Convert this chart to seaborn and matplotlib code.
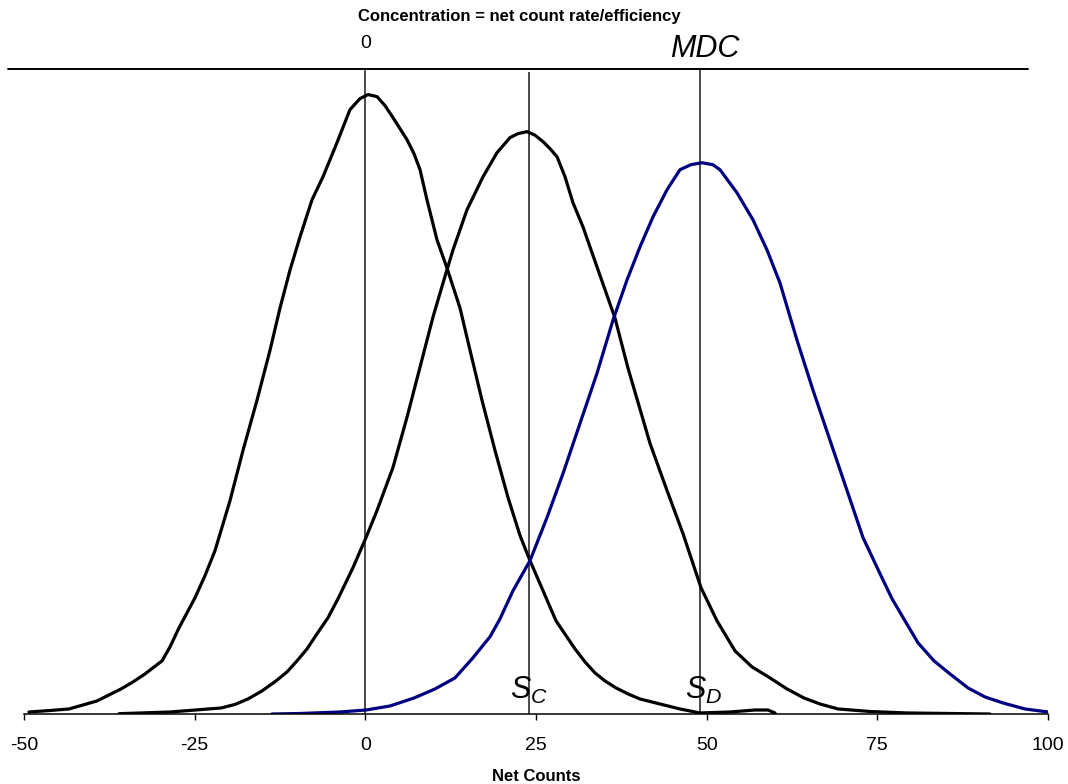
import matplotlib
matplotlib.use("Agg")
import matplotlib.pyplot as plt
import numpy as np
import pandas as pd
import seaborn as sns

# Net-count distributions: blank (centred on 0), signal at the critical level S_C,
# and signal at the detection limit S_D.
blank_counts = [-49.27, -46.19, -43.41, -39.31, -35.79, -34.03, -32.27, -29.78, -28.61,
                -27.29, -26.12, -24.95, -23.49, -22.02, -19.82, -17.92, -15.87, -13.96,
                -12.50, -11.03, -9.57, -7.81, -6.20, -4.15, -2.25, -0.78, 0.39, 1.71,
                2.88, 4.05, 6.10, 7.13, 8.01, 9.03, 10.50, 11.96, 13.87, 15.33, 17.09,
                18.99, 20.90, 22.66, 24.12, 26.03, 27.93, 30.71, 32.18, 33.64, 35.11,
                36.72, 38.48, 40.23, 43.16, 46.09, 49.02, 53.42, 57.08, 58.98, 60.01]
blank_freq = [0.31, 0.54, 0.78, 2.02, 3.88, 4.97, 6.21, 8.23, 10.40, 13.35, 15.68,
              18.01, 21.43, 25.31, 33.07, 40.84, 48.60, 56.37, 62.89, 68.79, 73.91,
              79.66, 83.23, 88.51, 93.63, 95.34, 95.96, 95.65, 94.25, 92.39, 88.98,
              86.80, 84.32, 79.66, 73.45, 69.10, 62.89, 56.37, 48.60, 40.84, 33.54,
              27.64, 23.76, 19.10, 14.44, 10.09, 8.07, 6.37, 5.12, 4.04, 3.11, 2.33,
              1.55, 0.78, 0.16, 0.31, 0.62, 0.62, 0.16]

critical_counts = [-36.08, -28.61, -21.14, -19.09, -17.19, -15.14, -13.09, -11.47,
                   -10.01, -8.54, -7.08, -5.47, -4.00, -1.81, 0.10, 1.71, 4.05, 6.10,
                   8.01, 9.91, 11.38, 12.84, 14.89, 17.24, 19.29, 21.19, 22.36, 23.68,
                   24.85, 26.03, 27.05, 28.08, 29.25, 30.42, 31.88, 33.94, 36.57, 38.48,
                   41.70, 44.19, 46.53, 49.17, 51.51, 54.15, 56.64, 59.28, 61.77, 64.26,
                   66.60, 69.24, 73.92, 79.35, 91.50]
critical_freq = [0.05, 0.31, 0.93, 1.48, 2.33, 3.57, 5.12, 6.52, 8.23, 10.09, 12.42,
                 14.91, 17.86, 22.67, 27.33, 31.52, 38.20, 45.96, 53.73, 61.49, 66.77,
                 71.89, 78.11, 83.23, 86.96, 89.29, 89.91, 90.22, 89.67, 88.67, 87.58,
                 86.34, 83.23, 79.19, 75.47, 69.25, 61.34, 53.57, 41.93, 34.63, 27.95,
                 19.57, 14.44, 9.78, 7.30, 5.59, 3.88, 2.48, 1.55, 0.78, 0.39, 0.16, 0.0]

detection_counts = [-13.67, -9.57, -3.71, 0.10, 3.61, 7.13, 10.21, 13.13, 15.63, 18.26,
                    19.73, 21.63, 24.12, 26.61, 28.96, 31.45, 33.94, 36.28, 38.33, 40.23,
                    42.14, 44.19, 46.09, 47.70, 49.32, 50.90, 51.95, 54.44, 56.79, 58.84,
                    60.74, 63.23, 65.58, 68.07, 70.56, 72.90, 75.39, 77.15, 79.05, 80.96,
                    83.30, 85.64, 88.28, 90.77, 93.41, 96.63, 100.0]
detection_freq = [0.0, 0.08, 0.31, 0.62, 1.24, 2.48, 3.88, 5.59, 8.54, 11.96, 14.75,
                  19.10, 23.76, 30.43, 37.27, 45.03, 52.80, 61.02, 67.24, 72.36, 77.02,
                  81.21, 84.32, 85.10, 85.40, 85.10, 84.32, 80.75, 76.55, 71.89, 66.77,
                  57.92, 50.16, 42.39, 34.63, 27.33, 21.74, 17.86, 14.44, 11.02, 8.23,
                  6.21, 4.04, 2.64, 1.71, 0.78, 0.31]

# Reference levels: zero, critical level S_C, detection limit S_D
level_values = [0, 24, 49]
level_tops = [100, 99.4, 100]
x_ticks = [-50, -25, 0, 25, 50, 75, 100]

sns.set_theme(style="white")
plt.rcParams["font.family"] = ["Liberation Sans", "DejaVu Sans"]
plt.rcParams["mathtext.fontset"] = "custom"
plt.rcParams["mathtext.it"] = "Liberation Sans:italic"
plt.rcParams["mathtext.rm"] = "Liberation Sans"
plt.rcParams["text.color"] = "black"
plt.rcParams["axes.labelcolor"] = "black"
plt.rcParams["xtick.color"] = "black"

frames = []
for name, xs, ys in [("blank", blank_counts, blank_freq),
                     ("critical", critical_counts, critical_freq),
                     ("detection", detection_counts, detection_freq)]:
    frames.append(pd.DataFrame({"net_counts": xs, "freq": ys, "population": name}))
df = pd.concat(frames, ignore_index=True)

W, H = 1068, 784
fig = plt.figure(figsize=(W / 100, H / 100), dpi=100)
ax = fig.add_axes([24 / W, (H - 714) / H, 1024 / W, 645.5 / H])

palette = {"blank": "black", "critical": "black", "detection": "#000080"}
sns.lineplot(data=df, x="net_counts", y="freq", hue="population", palette=palette,
             estimator=None, sort=False, legend=False, lw=2.3, ax=ax,
             solid_capstyle="round", solid_joinstyle="round")

# vertical reference lines and the concentration axis on top
ax.vlines(level_values, 0, level_tops, color="#1a1a1a", lw=1.1, zorder=1)
ax.axhline(100, xmin=-16 / 1024, xmax=1004 / 1024, color="black", lw=1.4, clip_on=False)

ax.set_xlim(-50, 100)
ax.set_ylim(0, 100)
ax.set_xticks(x_ticks)
ax.set_xticklabels([str(t) for t in x_ticks])
ax.set_yticks([])
for side in ("left", "right", "top"):
    ax.spines[side].set_visible(False)
ax.spines["bottom"].set_color("black")
ax.spines["bottom"].set_linewidth(1.1)
ax.tick_params(axis="x", direction="out", length=4.5, width=1.0, color="black",
               labelcolor="black", labelsize=14, pad=12, bottom=True)
ax.set_xlabel("Net Counts", fontsize=12, fontweight="bold", labelpad=11)
ax.set_ylabel("")

ax.text(0, 1.0318, "0", transform=ax.get_xaxis_transform(), ha="center",
        va="baseline", fontsize=14)
ax.text(49.7, 1.0178, "MDC", transform=ax.get_xaxis_transform(), ha="center",
        va="baseline", fontsize=22, fontstyle="italic")
ax.text(23.9, 2.3, r"$S_C$", ha="center", va="baseline", fontsize=22)
ax.text(49.55, 2.3, r"$S_D$", ha="center", va="baseline", fontsize=22)

fig.text(519 / W, 1 - 21 / H, "Concentration = net count rate/efficiency",
         ha="center", va="baseline", fontsize=12, fontweight="bold")

fig.savefig("out.png", dpi=100, facecolor="white")
